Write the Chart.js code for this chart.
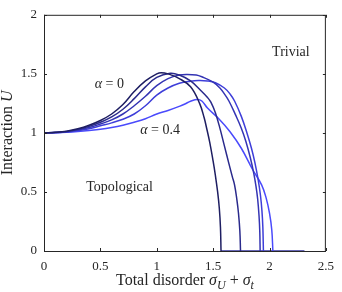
<!DOCTYPE html>
<html>
<head>
<meta charset="utf-8">
<script src="https://cdn.jsdelivr.net/npm/chart.js@4.4.0/dist/chart.umd.min.js"></script>
<style>
  html, body { margin: 0; padding: 0; background: #fff; }
</style>
</head>
<body>
<canvas id="chart" width="342" height="292"></canvas>
<script>
// total disorder (x) and interaction U (y), one pair per alpha
const alphas = [0, 0.1, 0.2, 0.3, 0.4];

const dis0 = [0, 0.1, 0.2, 0.3, 0.4, 0.5, 0.6, 0.7, 0.8, 0.9, 1.0, 1.04, 1.1, 1.2, 1.3, 1.38, 1.42, 1.44, 1.47, 1.5, 1.52, 1.54, 1.555, 1.565, 1.57];
const u0   = [1, 1.005, 1.015, 1.035, 1.065, 1.105, 1.16, 1.24, 1.35, 1.44, 1.5, 1.51, 1.5, 1.46, 1.39, 1.25, 1.13, 1.05, 0.92, 0.76, 0.64, 0.5, 0.36, 0.2, 0];

const dis1 = [0, 0.1, 0.2, 0.3, 0.4, 0.5, 0.6, 0.7, 0.8, 0.9, 1.0, 1.12, 1.2, 1.3, 1.4, 1.45, 1.48, 1.52, 1.56, 1.6, 1.64, 1.67, 1.69, 1.71, 1.725, 1.737, 1.743];
const u1   = [1, 1.004, 1.012, 1.03, 1.055, 1.09, 1.135, 1.2, 1.29, 1.39, 1.47, 1.505, 1.49, 1.44, 1.35, 1.3, 1.26, 1.17, 1.04, 0.89, 0.74, 0.63, 0.56, 0.44, 0.32, 0.17, 0];

const dis2 = [0, 0.1, 0.2, 0.3, 0.4, 0.5, 0.6, 0.7, 0.8, 0.9, 1.0, 1.1, 1.2, 1.27, 1.35, 1.4, 1.5, 1.56, 1.6, 1.64, 1.7, 1.75, 1.79, 1.83, 1.86, 1.88, 1.895, 1.907, 1.914, 1.917];
const u2   = [1, 1.003, 1.01, 1.025, 1.045, 1.075, 1.11, 1.16, 1.23, 1.31, 1.4, 1.46, 1.49, 1.495, 1.49, 1.475, 1.43, 1.38, 1.33, 1.27, 1.15, 1.04, 0.93, 0.79, 0.66, 0.55, 0.44, 0.3, 0.16, 0];

const dis3 = [0, 0.1, 0.2, 0.3, 0.4, 0.5, 0.6, 0.7, 0.8, 0.9, 1.0, 1.1, 1.2, 1.3, 1.37, 1.45, 1.52, 1.6, 1.65, 1.69, 1.75, 1.8, 1.84, 1.87, 1.9, 1.92, 1.933, 1.941, 1.946];
const u3   = [1, 1.003, 1.008, 1.02, 1.035, 1.06, 1.085, 1.115, 1.16, 1.23, 1.32, 1.38, 1.42, 1.438, 1.443, 1.44, 1.425, 1.38, 1.33, 1.27, 1.14, 1.0, 0.87, 0.75, 0.6, 0.47, 0.34, 0.2, 0];

const dis4 = [0, 0.1, 0.2, 0.3, 0.4, 0.5, 0.6, 0.7, 0.8, 0.9, 1.0, 1.1, 1.2, 1.25, 1.3, 1.36, 1.4, 1.45, 1.55, 1.65, 1.75, 1.85, 1.93, 1.97, 2.0, 2.02, 2.03];
const u4   = [1, 1.002, 1.006, 1.012, 1.02, 1.03, 1.045, 1.065, 1.09, 1.12, 1.16, 1.19, 1.225, 1.245, 1.268, 1.283, 1.27, 1.21, 1.12, 1.01, 0.87, 0.69, 0.56, 0.45, 0.32, 0.18, 0];

// U = 0 stretch past the last transition
const tailDis = [1.57, 2.31];
const tailU   = [0, 0];

const lineColors = ['#1e1e62', '#2a2a8c', '#3434b4', '#3e3ed9', '#4a4afc'];
const tailColor = '#34349c';

const SERIF = '"Liberation Serif", "DejaVu Serif", serif';
const INK = '#262626';

const toPoints = (xs, ys) => xs.map((x, k) => ({ x: x, y: ys[k] }));

const pairs = [[dis0, u0], [dis1, u1], [dis2, u2], [dis3, u3], [dis4, u4]];
const datasets = pairs.map(([xs, ys], i) => ({
    label: 'alpha = ' + alphas[i],
    data: toPoints(xs, ys),
    borderColor: lineColors[i],
    borderWidth: 1.5,
    pointRadius: 0,
    fill: false,
    tension: 0.4
}));
datasets.push({
    label: 'U = 0',
    data: toPoints(tailDis, tailU),
    borderColor: tailColor,
    borderWidth: 1.5,
    pointRadius: 0,
    fill: false
});

// draws text made of upright / italic / subscript pieces, centred on (x, y)
function richText(ctx, parts, x, y, size) {
    const fontFor = p => (p.i ? 'italic ' : '') + (p.sub ? Math.round(size * 0.72) : size) + 'px ' + SERIF;
    let w = 0;
    parts.forEach(p => { ctx.font = fontFor(p); w += ctx.measureText(p.t).width; });
    let cx = x - w / 2;
    ctx.textAlign = 'left';
    ctx.textBaseline = 'middle';
    parts.forEach(p => {
        ctx.font = fontFor(p);
        ctx.fillText(p.t, cx, y + (p.sub ? size * 0.28 : 0));
        cx += ctx.measureText(p.t).width;
    });
}

const frame = {
    id: 'frame',
    afterDatasetsDraw(chart) {
        const { ctx, chartArea: a, scales: { x, y } } = chart;
        ctx.save();
        ctx.strokeStyle = INK;
        ctx.lineWidth = 1;
        ctx.strokeRect(a.left + 0.5, a.top + 0.5, a.right - a.left - 1, a.bottom - a.top);
        ctx.beginPath();
        x.ticks.forEach(t => {
            const px = Math.round(x.getPixelForValue(t.value)) + 0.5;
            ctx.moveTo(px, a.bottom); ctx.lineTo(px, a.bottom - 3);
            ctx.moveTo(px, a.top); ctx.lineTo(px, a.top + 3);
        });
        y.ticks.forEach(t => {
            const py = Math.round(y.getPixelForValue(t.value)) + 0.5;
            ctx.moveTo(a.left, py); ctx.lineTo(a.left + 3, py);
            ctx.moveTo(a.right, py); ctx.lineTo(a.right - 3, py);
        });
        ctx.stroke();
        ctx.restore();
    },
    afterDraw(chart) {
        const { ctx, chartArea: a, scales: { x, y } } = chart;
        ctx.save();
        ctx.fillStyle = INK;
        richText(ctx, [{ t: 'Trivial' }], x.getPixelForValue(2.19), y.getPixelForValue(1.68), 14);
        richText(ctx, [{ t: 'Topological' }], x.getPixelForValue(0.67), y.getPixelForValue(0.54), 14);
        richText(ctx, [{ t: 'α', i: true }, { t: ' = 0' }], x.getPixelForValue(0.58), y.getPixelForValue(1.41), 14);
        richText(ctx, [{ t: 'α', i: true }, { t: ' = 0.4' }], x.getPixelForValue(1.03), y.getPixelForValue(1.02), 14);
        richText(ctx, [{ t: 'Total disorder ' }, { t: 'σ', i: true }, { t: 'U', i: true, sub: true },
            { t: ' + ' }, { t: 'σ', i: true }, { t: 't', i: true, sub: true }],
            (a.left + a.right) / 2, 281, 16);
        ctx.translate(8, (a.top + a.bottom) / 2);
        ctx.rotate(-Math.PI / 2);
        richText(ctx, [{ t: 'Interaction ' }, { t: 'U', i: true }], 0, 0, 16);
        ctx.restore();
    }
};

const fmt = v => String(Number(v.toFixed(1)));

new Chart(document.getElementById('chart'), {
    type: 'line',
    data: { datasets: datasets },
    options: {
        responsive: false,
        animation: false,
        events: [],
        layout: { padding: { top: 12, right: 10, left: 0, bottom: 0 } },
        plugins: { legend: { display: false }, tooltip: { enabled: false } },
        scales: {
            x: {
                type: 'linear', min: 0, max: 2.5,
                grid: { display: false, drawTicks: false },
                border: { display: false },
                ticks: { stepSize: 0.5, padding: 8, color: INK, font: { family: SERIF, size: 13 }, callback: fmt },
                afterFit: s => { s.height = 41; }
            },
            y: {
                type: 'linear', min: 0, max: 2,
                grid: { display: false, drawTicks: false },
                border: { display: false },
                ticks: { stepSize: 0.5, padding: 7, color: INK, font: { family: SERIF, size: 13 }, callback: fmt },
                afterFit: s => { s.width = 44; }
            }
        }
    },
    plugins: [frame]
});
</script>
</body>
</html>
